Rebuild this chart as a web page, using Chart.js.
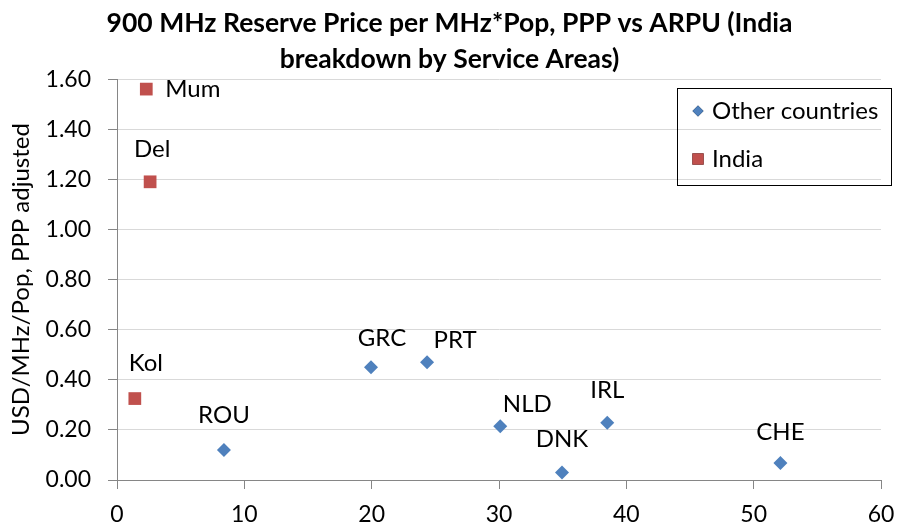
<!DOCTYPE html>
<html>
<head>
<meta charset="utf-8">
<script src="https://cdn.jsdelivr.net/npm/chart.js@4/dist/chart.umd.min.js"></script>
<style>
  html, body { margin: 0; padding: 0; background: #fff; }
  #wrap { width: 899px; height: 526px; }
</style>
</head>
<body>
<div id="wrap"><canvas id="chart"></canvas></div>
<script>
// values
const otherLabels = ['ROU', 'GRC', 'PRT', 'NLD', 'DNK', 'IRL', 'CHE'];
const otherArpu = [8.4, 19.95, 24.35, 30.1, 34.95, 38.5, 52.1];
const otherPrice = [0.12, 0.45, 0.47, 0.215, 0.03, 0.228, 0.068];

const indiaLabels = ['Mum', 'Del', 'Kol'];
const indiaArpu = [2.3, 2.6, 1.4];
const indiaPrice = [1.56, 1.19, 0.325];

// label placement (dx, dy, align) like the manual offsets in the original
const otherLabelPos = [[0, -35, 'center'], [11, -29, 'center'], [28, -22, 'center'], [27, -22, 'center'],
    [0, -33, 'center'], [0, -33, 'center'], [0, -31, 'center']];
const indiaLabelPos = [[19, 0, 'left'], [2, -33, 'center'], [11, -35, 'center']];

const FONT = 'Lato, "Open Sans", sans-serif';
const blue = '#4F81BD';
const red = '#C0504D';

const toPoints = (xs, ys) => xs.map((x, i) => ({ x: x, y: ys[i] }));

// draw the country codes next to the markers
const pointLabels = {
    id: 'pointLabels',
    afterDatasetsDraw(chart) {
        const ctx = chart.ctx;
        ctx.save();
        ctx.font = '24px ' + FONT;
        ctx.fillStyle = '#000';
        ctx.textBaseline = 'middle';
        chart.data.datasets.forEach((ds, di) => {
            const meta = chart.getDatasetMeta(di);
            meta.data.forEach((pt, i) => {
                const pos = ds.labelPos[i];
                ctx.textAlign = pos[2];
                ctx.fillText(ds.names[i], pt.x + pos[0], pt.y + pos[1]);
            });
        });
        ctx.restore();
    }
};

// boxed legend as in the original
const boxLegend = {
    id: 'boxLegend',
    afterDraw(chart) {
        const ctx = chart.ctx;
        ctx.save();
        ctx.strokeStyle = '#000';
        ctx.lineWidth = 1;
        ctx.strokeRect(677.5, 88.5, 214, 97);
        ctx.font = '24px ' + FONT;
        ctx.textBaseline = 'middle';
        ctx.textAlign = 'left';
        chart.data.datasets.forEach((ds, di) => {
            const y = 111 + di * 48;
            Chart.helpers.drawPoint(ctx, {
                pointStyle: ds.pointStyle,
                radius: di === 0 ? 5.5 : 8,
                borderWidth: 0
            }, 698, y);
            ctx.fillStyle = ds.backgroundColor;
            ctx.fill();
            ctx.fillStyle = '#000';
            ctx.fillText(ds.label, 712, y);
        });
        ctx.restore();
    }
};

new Chart(document.getElementById('chart'), {
    type: 'scatter',
    data: {
        datasets: [
            {
                label: 'Other countries',
                data: toPoints(otherArpu, otherPrice),
                names: otherLabels,
                labelPos: otherLabelPos,
                pointStyle: 'rectRot',
                pointRadius: 7,
                pointHoverRadius: 7,
                backgroundColor: blue,
                borderColor: blue,
                borderWidth: 0
            },
            {
                label: 'India',
                data: toPoints(indiaArpu, indiaPrice),
                names: indiaLabels,
                labelPos: indiaLabelPos,
                pointStyle: 'rect',
                pointRadius: 9,
                pointHoverRadius: 9,
                backgroundColor: red,
                borderColor: red,
                borderWidth: 0
            }
        ]
    },
    options: {
        responsive: true,
        maintainAspectRatio: false,
        animation: false,
        layout: { padding: { left: 18, right: 18, top: 0, bottom: 0 } },
        plugins: {
            legend: { display: false },
            tooltip: { enabled: false },
            title: {
                display: true,
                text: ['900 MHz Reserve Price per MHz*Pop, PPP vs ARPU (India', 'breakdown by Service Areas)'],
                color: '#000',
                font: { family: FONT, size: 26.5, weight: 'bold', lineHeight: 1.36 },
                padding: { top: 5, bottom: 2 }
            }
        },
        scales: {
            x: {
                type: 'linear',
                min: 0,
                max: 60,
                // small padding keeps the right edge at 60; lineHeight pushes labels down
                ticks: { stepSize: 10, color: '#000', font: { family: FONT, size: 23, lineHeight: 2 }, padding: 3 },
                grid: { display: true, drawOnChartArea: false, drawTicks: true, tickLength: 9, color: '#868686' },
                border: { color: '#868686' },
                afterFit(scale) { scale.height = 46; }
            },
            y: {
                min: 0,
                max: 1.6,
                ticks: {
                    stepSize: 0.2,
                    color: '#000',
                    font: { family: FONT, size: 23 },
                    padding: 17,
                    callback: v => v.toFixed(2)
                },
                grid: { color: '#D9D9D9', tickLength: 9, tickColor: '#868686' },
                border: { color: '#868686' },
                title: {
                    display: true,
                    text: 'USD/MHz/Pop, PPP adjusted',
                    color: '#000',
                    font: { family: FONT, size: 24, lineHeight: 0.3 },
                    padding: { top: 0, bottom: 0 }
                },
                afterFit(scale) { scale.width = 99; }
            }
        }
    },
    plugins: [pointLabels, boxLegend]
});
</script>
</body>
</html>
